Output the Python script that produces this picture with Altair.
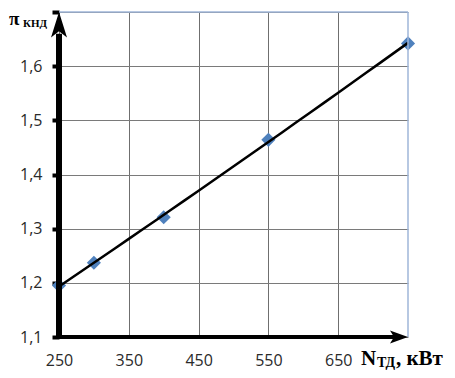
import altair as alt
import pandas as pd

# data
x_vals = [250, 300, 400, 550, 750]
y_vals = [1.195, 1.237, 1.321, 1.464, 1.642]
x_ticks = [250, 350, 450, 550, 650]
y_ticks = [1.1, 1.2, 1.3, 1.4, 1.5, 1.6, 1.7]

df = pd.DataFrame({"x": x_vals, "y": y_vals})
one = pd.DataFrame({"a": [0]})

xs = alt.Scale(domain=[250, 750], nice=False, zero=False)
ys = alt.Scale(domain=[1.1, 1.7], nice=False, zero=False)

LABEL_FONT = "Open Sans"
SERIF = "Liberation Serif"

ax_x = alt.Axis(
    values=x_ticks, title=None, domain=False, ticks=False, tickSize=0,
    grid=True, gridColor="#6f6f6f", gridWidth=1,
    labelFont=LABEL_FONT, labelFontSize=16, labelColor="#2a2a2a",
    labelPadding=15, labelFlush=False)
ax_y = alt.Axis(
    values=y_ticks, title=None, domain=False, ticks=True, tickSize=7,
    tickWidth=4, tickColor="black",
    grid=True, gridColor="#7a7a7a", gridWidth=1.2,
    labelFont=LABEL_FONT, labelFontSize=16, labelColor="#2a2a2a",
    labelPadding=10, labelFlush=False,
    labelExpr="datum.value > 1.65 ? '' : replace(format(datum.value, '.1f'), '.', ',')")

points = alt.Chart(df).mark_point(
    shape="diamond", filled=True, size=200, color="#4f81bd", opacity=1
).encode(
    x=alt.X("x:Q", scale=xs, axis=ax_x),
    y=alt.Y("y:Q", scale=ys, axis=ax_y),
)

trend = alt.Chart(df).transform_regression(
    "x", "y", method="poly", order=2
).mark_line(color="black", strokeWidth=2.5).encode(
    x=alt.X("x:Q", scale=xs, axis=ax_x),
    y=alt.Y("y:Q", scale=ys, axis=ax_y),
)

border_color = "#9fb6d8"
top_border = alt.Chart(one).mark_rule(color=border_color, strokeWidth=1.5).encode(
    x=alt.datum(250, scale=xs, axis=ax_x), x2=alt.datum(750),
    y=alt.datum(1.7, scale=ys, axis=ax_y))
right_border = alt.Chart(one).mark_rule(color=border_color, strokeWidth=1.5).encode(
    x=alt.datum(750, scale=xs, axis=ax_x),
    y=alt.datum(1.1, scale=ys, axis=ax_y), y2=alt.datum(1.7))

y_axis_line = alt.Chart(one).mark_rule(color="black", strokeWidth=6).encode(
    x=alt.datum(250, scale=xs, axis=ax_x),
    y=alt.datum(1.1, scale=ys, axis=ax_y), y2=alt.datum(1.66))
x_axis_line = alt.Chart(one).mark_rule(color="black", strokeWidth=4).encode(
    x=alt.datum(247, scale=xs, axis=ax_x), x2=alt.datum(738),
    y=alt.datum(1.1, scale=ys, axis=ax_y))

y_arrow = alt.Chart(one).mark_point(
    shape="M0,0L0.5,1.6L0,1.2L-0.5,1.6Z", filled=True, color="black",
    opacity=1, size=1024, strokeWidth=0
).encode(x=alt.datum(250, scale=xs, axis=ax_x), y=alt.datum(1.7, scale=ys, axis=ax_y))

x_arrow = alt.Chart(one).mark_point(
    shape="M0,0L-1.8,-0.65L-1.4,0L-1.8,0.65Z", filled=True, color="black",
    opacity=1, size=400, strokeWidth=0
).encode(x=alt.datum(750, scale=xs, axis=ax_x), y=alt.datum(1.1, scale=ys, axis=ax_y))

def label(text, x, y, size, bold=True, font=SERIF):
    return alt.Chart(one).mark_text(
        text=text, align="left", baseline="alphabetic", font=font,
        fontSize=size, fontWeight="bold" if bold else "normal", color="black"
    ).encode(x=alt.value(x), y=alt.value(y))

y_title = label("π", -50, 13, 19) + label("КНД", -36, 14.5, 11)
x_title = label("N", 302, 353, 21) + label("ТД", 318, 354.5, 14) + label(", кВт", 337, 353, 21)

chart = alt.layer(
    points, trend, top_border, right_border, y_axis_line, x_axis_line,
    y_arrow, x_arrow, y_title, x_title
).properties(
    width=349, height=325,
    padding={"left": 51, "top": 4, "right": 39, "bottom": 33},
    autosize=alt.AutoSizeParams(type="none"),
).configure_view(stroke=None)

chart.save("out.html", embed_options={"renderer": "svg", "actions": False})
